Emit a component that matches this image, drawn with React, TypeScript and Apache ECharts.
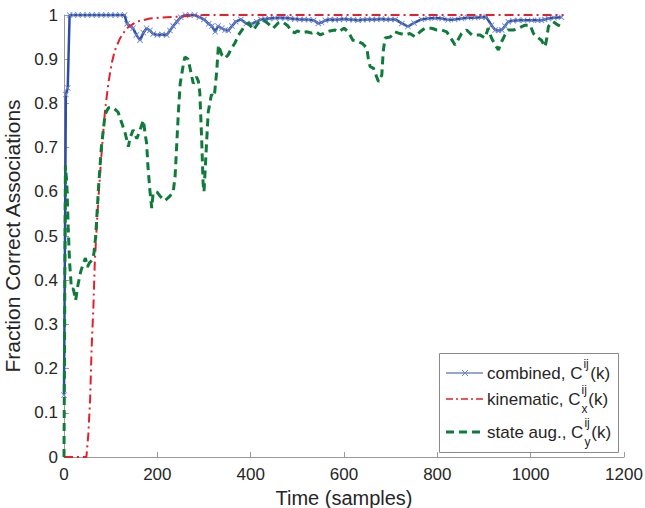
import React, { useEffect, useRef } from "react";
import * as echarts from "echarts";

// ---- data ----
const xTickMax = 1200;
const yTickMax = 1;

const blueT = [0, 4, 8, 12, 20, 30, 40, 50, 60, 70, 80, 90, 100, 110, 120, 130, 135, 142, 148, 155, 163, 170, 177, 184, 191, 200, 210, 220, 227, 234, 242, 250, 260, 270, 280, 290, 300, 310, 317, 324, 330, 338, 345, 352, 360, 368, 379, 391, 402, 413, 422, 431, 440, 452, 463, 474, 485, 495, 505, 515, 524, 535, 545, 552, 560, 570, 581, 590, 600, 610, 620, 630, 640, 650, 660, 670, 680, 690, 700, 710, 724, 737, 750, 766, 780, 795, 810, 823, 837, 852, 865, 880, 895, 905, 916, 924, 931, 938, 945, 952, 962, 973, 985, 1002, 1015, 1023, 1030, 1038, 1050, 1066];
const blueV = [0.14, 0.82, 0.835, 1.0, 1.0, 1.0, 1.0, 1.0, 1.0, 1.0, 1.0, 1.0, 1.0, 1.0, 1.0, 1.0, 0.98, 0.975, 0.97, 0.955, 0.943, 0.96, 0.97, 0.965, 0.957, 0.955, 0.956, 0.955, 0.965, 0.975, 0.985, 0.995, 1.0, 1.0, 1.0, 0.995, 0.99, 0.98, 0.975, 0.962, 0.975, 0.97, 0.966, 0.965, 0.975, 0.985, 0.99, 0.981, 0.98, 0.985, 0.99, 0.991, 0.992, 0.993, 0.994, 0.993, 0.992, 0.991, 0.99, 0.99, 0.989, 0.988, 0.981, 0.983, 0.988, 0.99, 0.989, 0.99, 0.991, 0.99, 0.989, 0.988, 0.989, 0.99, 0.99, 0.99, 0.991, 0.99, 0.99, 0.99, 0.981, 0.974, 0.982, 0.99, 0.992, 0.993, 0.992, 0.989, 0.99, 0.992, 0.994, 0.994, 0.995, 0.995, 0.977, 0.966, 0.965, 0.966, 0.975, 0.985, 0.987, 0.988, 0.988, 0.988, 0.988, 0.988, 0.99, 0.992, 0.994, 0.995];

const redT = [0, 10, 20, 30, 40, 48, 52, 56, 59, 63, 66, 70, 74, 81, 88, 95, 102, 109, 120, 134, 156, 184, 220, 256, 300, 400, 500, 600, 700, 800, 900, 1000, 1070];
const redV = [0, 0, 0, 0, 0, 0, 0.05, 0.13, 0.24, 0.34, 0.44, 0.52, 0.59, 0.695, 0.785, 0.845, 0.89, 0.92, 0.947, 0.97, 0.985, 0.992, 0.995, 0.997, 1, 1, 1, 1, 1, 1, 1, 1, 1];

const greenT = [0, 3, 6, 9, 12, 16, 20, 25, 30, 36, 42, 46, 50, 55, 60, 64, 68, 74, 80, 88, 95, 106, 116, 124, 131, 138, 141, 148, 156, 163, 170, 174, 177, 180, 184, 188, 191, 199, 206, 216, 227, 234, 238, 241, 245, 249, 256, 259, 266, 270, 274, 277, 284, 288, 291, 295, 298, 300, 302, 306, 309, 316, 322, 327, 331, 338, 345, 352, 359, 366, 374, 384, 395, 406, 416, 427, 438, 448, 459, 469, 480, 488, 495, 500, 510, 520, 531, 540, 549, 560, 570, 581, 589, 600, 609, 619, 630, 640, 649, 652, 656, 663, 670, 674, 681, 684, 688, 699, 709, 720, 731, 741, 752, 763, 773, 788, 799, 810, 820, 827, 838, 845, 852, 863, 874, 891, 902, 909, 916, 924, 931, 938, 945, 952, 963, 974, 988, 999, 1006, 1013, 1023, 1031, 1035, 1038, 1048, 1059, 1066, 1070];
const greenV = [0, 0.66, 0.62, 0.52, 0.44, 0.38, 0.38, 0.355, 0.39, 0.42, 0.44, 0.45, 0.43, 0.44, 0.445, 0.46, 0.5, 0.61, 0.7, 0.775, 0.79, 0.79, 0.78, 0.755, 0.733, 0.702, 0.72, 0.74, 0.72, 0.74, 0.762, 0.73, 0.71, 0.656, 0.604, 0.563, 0.597, 0.6, 0.59, 0.58, 0.59, 0.6, 0.634, 0.695, 0.778, 0.845, 0.89, 0.905, 0.9, 0.88, 0.86, 0.845, 0.86, 0.85, 0.825, 0.72, 0.62, 0.6, 0.64, 0.72, 0.78, 0.82, 0.815, 0.87, 0.932, 0.91, 0.902, 0.91, 0.925, 0.936, 0.955, 0.97, 0.982, 0.966, 0.982, 0.989, 0.98, 0.97, 0.982, 0.984, 0.975, 0.962, 0.96, 0.964, 0.96, 0.962, 0.959, 0.962, 0.955, 0.96, 0.964, 0.966, 0.962, 0.97, 0.962, 0.943, 0.94, 0.935, 0.925, 0.902, 0.883, 0.88, 0.86, 0.849, 0.864, 0.917, 0.948, 0.95, 0.962, 0.958, 0.955, 0.958, 0.951, 0.962, 0.97, 0.97, 0.966, 0.966, 0.962, 0.951, 0.932, 0.945, 0.958, 0.966, 0.955, 0.955, 0.948, 0.97, 0.948, 0.932, 0.921, 0.94, 0.955, 0.966, 0.966, 0.97, 0.977, 0.977, 0.958, 0.951, 0.943, 0.928, 0.95, 0.974, 0.985, 0.977, 0.974, 0.978];

const seriesNames = ["combined", "kinematic", "state aug."];
const legendBase = ["combined, C", "kinematic, C", "state aug., C"];
const legendSub = ["", "x", "y"];
const xAxisTitle = "Time (samples)";
const yAxisTitle = "Fraction Correct Associations";

// ---- styles ----
const FONT = '"Liberation Sans", Arial, Helvetica, sans-serif';
const BLUE = "#2d4ca4";
const BLUE_MARK = "#6d88cf";
const RED = "#e5202a";
const GREEN = "#0f7b3b";
const AXIS = "#9a9a9a";
const TEXT = "#262626";
const X_PATH = "path://M0,1 L1,0 L5,4 L9,0 L10,1 L6,5 L10,9 L9,10 L5,6 L1,10 L0,9 L4,5 Z";

const zip = (t: number[], v: number[]) => t.map((x, i) => [x, v[i]]);

function measure(text: string, size: number): number {
  const c = document.createElement("canvas").getContext("2d");
  if (!c) return text.length * size * 0.5;
  c.font = `${size}px ${FONT}`;
  return c.measureText(text).width;
}

export default function App() {
  const ref = useRef<HTMLDivElement>(null);
  useEffect(() => {
    if (!ref.current) return;
    const chart = echarts.init(ref.current, undefined, { renderer: "svg" });

    const lx0 = 446, lx1 = 483, tx = 487;
    const rowsY = [373, 399, 432];
    const graphics: any[] = [
      {
        type: "rect",
        shape: { x: 439.5, y: 353.5, width: 179, height: 99 },
        style: { fill: "#fff", stroke: "#8a8a8a", lineWidth: 1 },
        z: 100,
      },
    ];
    const lineStyles = [
      { stroke: BLUE, lineWidth: 1 },
      { stroke: RED, lineWidth: 1.5, lineDash: [7, 3, 2, 3] },
      { stroke: GREEN, lineWidth: 3, lineDash: [8, 5] },
    ];
    rowsY.forEach((y, i) => {
      graphics.push({ type: "line", shape: { x1: lx0, y1: y, x2: lx1, y2: y }, style: lineStyles[i], z: 101 });
      if (i === 0) {
        const cx = 465;
        graphics.push({ type: "line", shape: { x1: cx - 3, y1: y - 3, x2: cx + 3, y2: y + 3 }, style: { stroke: BLUE_MARK, lineWidth: 1 }, z: 102 });
        graphics.push({ type: "line", shape: { x1: cx - 3, y1: y + 3, x2: cx + 3, y2: y - 3 }, style: { stroke: BLUE_MARK, lineWidth: 1 }, z: 102 });
      }
      const w = measure(legendBase[i], 17);
      const sx = tx + w + 1;
      const wij = measure("ij", 12);
      graphics.push({ type: "text", x: tx, y, style: { text: legendBase[i], font: `17px ${FONT}`, fill: TEXT, verticalAlign: "middle", align: "left" }, z: 102 });
      graphics.push({ type: "text", x: sx, y: y - 9, style: { text: "ij", font: `12px ${FONT}`, fill: TEXT, verticalAlign: "middle", align: "left" }, z: 102 });
      if (legendSub[i]) {
        graphics.push({ type: "text", x: sx, y: y + 10, style: { text: legendSub[i], font: `12px ${FONT}`, fill: TEXT, verticalAlign: "middle", align: "left" }, z: 102 });
      }
      graphics.push({ type: "text", x: sx + wij + 1.5, y, style: { text: "(k)", font: `17px ${FONT}`, fill: TEXT, verticalAlign: "middle", align: "left" }, z: 102 });
    });

    chart.setOption({
      animation: false,
      backgroundColor: "#fff",
      grid: { left: 64, right: 21, top: 15, bottom: 51, containLabel: false, outerBoundsMode: "none" },
      xAxis: {
        type: "value",
        min: 0,
        max: xTickMax,
        interval: 200,
        name: xAxisTitle,
        nameLocation: "middle",
        nameGap: 25,
        nameTextStyle: { fontFamily: FONT, fontSize: 20, color: TEXT },
        axisLine: { show: true, lineStyle: { color: AXIS, width: 1 } },
        axisTick: { show: true, inside: true, length: 5, lineStyle: { color: AXIS } },
        axisLabel: { fontFamily: FONT, fontSize: 17, color: TEXT, margin: 9, formatter: (v: number) => String(v) },
        splitLine: { show: false },
      },
      yAxis: {
        type: "value",
        min: 0,
        max: yTickMax,
        interval: 0.1,
        name: yAxisTitle,
        nameLocation: "middle",
        nameGap: 28,
        nameTextStyle: { fontFamily: FONT, fontSize: 21, color: TEXT },
        axisLine: { show: true, lineStyle: { color: AXIS, width: 1 } },
        axisTick: { show: true, inside: true, length: 5, lineStyle: { color: AXIS } },
        axisLabel: { fontFamily: FONT, fontSize: 17, color: TEXT, margin: 6 },
        splitLine: { show: false },
      },
      series: [
        {
          name: seriesNames[0],
          type: "line",
          data: zip(blueT, blueV),
          symbol: X_PATH,
          symbolSize: 6,
          showSymbol: true,
          showAllSymbol: true,
          itemStyle: { color: BLUE_MARK, borderWidth: 0 },
          lineStyle: { color: BLUE, width: 2.5 },
          z: 2,
          silent: true,
        },
        {
          name: seriesNames[1],
          type: "line",
          data: zip(redT, redV),
          showSymbol: false,
          lineStyle: { color: RED, width: 2, type: [9, 4, 2, 4] },
          itemStyle: { color: RED },
          z: 3,
          silent: true,
        },
        {
          name: seriesNames[2],
          type: "line",
          data: zip(greenT, greenV),
          showSymbol: false,
          lineStyle: { color: GREEN, width: 3, type: [8, 5] },
          itemStyle: { color: GREEN },
          z: 4,
          silent: true,
        },
      ],
      graphic: graphics,
    });
    return () => chart.dispose();
  }, []);
  return <div ref={ref} style={{ width: 645, height: 508, position: "absolute", left: 0, top: 0 }} />;
}
